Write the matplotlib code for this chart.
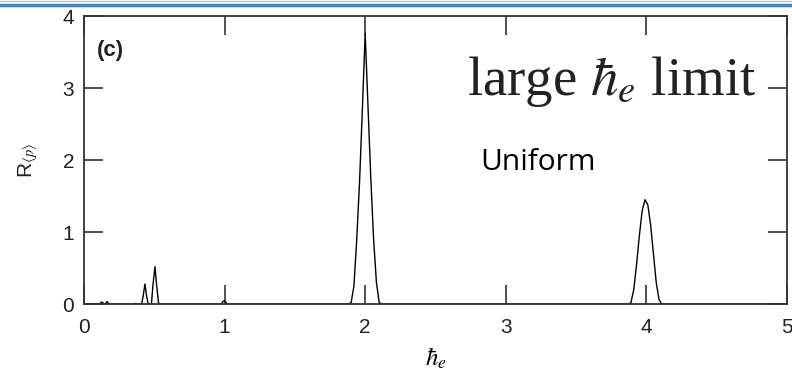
import matplotlib.pyplot as plt
from matplotlib.lines import Line2D

plt.rcParams['font.family'] = ['Liberation Sans', 'DejaVu Sans']
plt.rcParams['mathtext.fontset'] = 'stix'

# curve R<p> vs hbar_e
hbar_e = [0.0, 0.11, 0.125, 0.14, 0.15, 0.165, 0.175, 0.19,
          0.35, 0.36, 0.37, 0.41, 0.42, 0.434, 0.445, 0.455, 0.465,
          0.48, 0.49, 0.505, 0.515, 0.53, 0.54,
          0.97, 0.98, 0.99, 1.0, 1.01, 1.02,
          1.88, 1.90, 1.92, 1.94, 1.96, 1.98, 2.0, 2.02, 2.04, 2.06, 2.08, 2.10, 2.12,
          3.87, 3.89, 3.91, 3.93, 3.95, 3.97, 3.99, 4.01, 4.03, 4.05, 4.07, 4.09, 4.11,
          5.0]
r_p = [0.0, 0.0, 0.03, 0.01, 0.0, 0.035, 0.01, 0.0,
       0.0, 0.01, 0.0, 0.0, 0.1, 0.28, 0.12, 0.02, 0.0,
       0.0, 0.25, 0.52, 0.3, 0.02, 0.0,
       0.0, 0.01, 0.04, 0.05, 0.02, 0.0,
       0.0, 0.02, 0.25, 0.9, 1.7, 2.7, 3.76, 2.75, 1.75, 0.9, 0.3, 0.02, 0.0,
       0.0, 0.02, 0.2, 0.55, 0.95, 1.3, 1.45, 1.38, 1.1, 0.7, 0.3, 0.06, 0.0,
       0.0]

x_ticks = [0, 1, 2, 3, 4, 5]
y_ticks = [0, 1, 2, 3, 4]

fig = plt.figure(figsize=(7.92, 3.75), dpi=100)
ax = fig.add_axes([0.106, 0.189, 0.8877, 0.768])

ax.plot(hbar_e, r_p, color='black', lw=1.0)
ax.set_xlim(0, 5)
ax.set_ylim(0, 4)
ax.set_xticks(x_ticks)
ax.set_yticks(y_ticks)
ax.tick_params(direction='in', length=14, width=1.2, color='#333333',
               top=True, right=True, labelsize=15, labelcolor='#222222')
ax.tick_params(axis='x', pad=10)
ax.tick_params(axis='y', pad=7)
for s in ax.spines.values():
    s.set_color('#333333')
    s.set_linewidth(1.3)

ax.set_xlabel(r'$\hbar_e$', fontsize=18, labelpad=6)
ax.set_ylabel(r'R$_{\langle p\rangle}$', fontsize=15, labelpad=16, color='#222222')

ax.text(0.018, 0.86, '(c)', transform=ax.transAxes, fontsize=16,
        fontweight='bold', color='#222222')
ax.text(0.545, 0.725, r'large $\hbar_e$ limit', transform=ax.transAxes,
        fontsize=39.5, family='Liberation Serif', color='#222222')
ax.text(0.563, 0.465, 'Uniform', transform=ax.transAxes, fontsize=21.5,
        family='Open Sans', color='black')

# slide decoration at the top
fig.add_artist(Line2D([0, 1], [0.986, 0.986], color='#4a7ebf', lw=2.5,
                      transform=fig.transFigure))
fig.add_artist(Line2D([0, 1], [0.998, 0.998], color='#9fb8d8', lw=0.8,
                      transform=fig.transFigure))

fig.savefig('out.png', dpi=100)
